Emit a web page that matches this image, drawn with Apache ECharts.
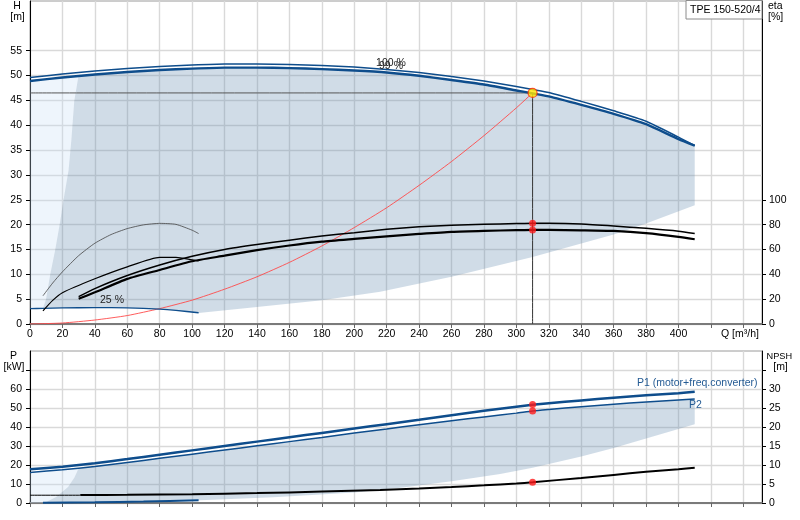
<!DOCTYPE html>
<html style="height: 100%;width: 100%">
<head>
<meta charset="utf-8">
<script src="https://cdn.jsdelivr.net/npm/echarts@6/dist/echarts.min.js"></script>
<style>
  body { margin: 0; background: #fff; }
  #container { width: 800px; height: 520px; }
</style>
</head>
<body>
<div id="container"></div>
<script type="text/javascript">
// flow grid shared by QH and P curves [m3/h]
var qQ   = [0, 20, 40, 60, 80, 100, 120, 140, 160, 180, 200, 220, 240, 260, 280, 300, 310, 320, 340, 360, 380, 400, 410];
var h100 = [49.6, 50.3, 50.9, 51.4, 51.8, 52.1, 52.3, 52.3, 52.2, 52.0, 51.7, 51.2, 50.6, 49.8, 48.9, 47.8, 47.2, 46.6, 44.8, 42.9, 40.8, 37.6, 35.9];
var h99  = [48.9, 49.6, 50.2, 50.7, 51.1, 51.4, 51.6, 51.6, 51.5, 51.3, 51.0, 50.6, 49.95, 49.1, 48.2, 47.0, 46.4, 45.8, 44.1, 42.3, 40.2, 37.2, 35.9];
var p1   = [17.7, 19.1, 20.9, 23.1, 25.4, 27.7, 30.0, 32.3, 34.6, 36.9, 39.2, 41.5, 43.8, 46.2, 48.5, 50.7, 51.7, 52.5, 54.0, 55.4, 56.7, 57.8, 58.5];
var p2   = [16.1, 17.5, 19.2, 21.3, 23.5, 25.7, 27.9, 30.1, 32.3, 34.5, 36.8, 39.0, 41.2, 43.3, 45.3, 47.3, 48.4, 49.2, 50.7, 52.0, 53.2, 54.2, 54.7];

// efficiency curves [%]
var etaQ  = [30, 40, 60, 80, 100, 120, 140, 160, 180, 200, 220, 240, 260, 280, 300, 310, 320, 340, 360, 380, 400, 410];
var etaHi = [22, 28.5, 39, 47.5, 54.5, 60, 64, 67.5, 70.8, 73.5, 76.2, 78.2, 79.5, 80.3, 80.8, 81.0, 81.0, 80.5, 78.9, 77.0, 74.7, 72.8];
var etaLo = [20.3, 25.5, 36.3, 43.5, 50.5, 55, 59.5, 63.2, 66.3, 68.5, 70.6, 72.5, 74.2, 75.0, 75.5, 75.7, 75.7, 75.4, 74.9, 73.2, 70.2, 68.2];
var thinQ   = [8, 14, 20, 30, 40, 50, 60, 70, 80, 90, 100, 104];
var thinEta = [22.7, 33, 42, 55, 65, 72, 76.8, 79.8, 81, 80.2, 75.5, 72.8];
var midQ   = [8, 14, 20, 40, 60, 80, 90, 100, 104];
var midEta = [10.6, 19, 25.2, 36.4, 46, 53.6, 53.6, 51.6, 50.8];

// 25 % speed QH, system curve
var b25Q = [0, 8, 20, 40, 60, 80, 90, 104];
var b25H = [3.1, 3.15, 3.25, 3.3, 3.25, 3.0, 2.75, 2.25];
var sysQ = [0, 20, 40, 60, 80, 100, 120, 140, 160, 180, 200, 220, 240, 260, 280, 300, 310];
var sysH = [0, 0.2, 0.8, 1.7, 3.1, 4.8, 7.0, 9.5, 12.4, 15.7, 19.4, 23.4, 27.9, 32.7, 37.9, 43.5, 46.5];

// operating range, upper chart
var shLeftQ = [8, 9.9, 12.5, 15.6, 18.3, 20.7, 23.8, 25.5, 27.3, 30];
var shLeftH = [3.1, 5, 10, 15, 20, 25, 31, 37, 44.9, 50.1];
var shBotQ  = [104, 140, 180, 216, 260, 310, 360, 380, 410];
var shBotH  = [2.2, 3.4, 4.8, 6.5, 9.5, 13.5, 18.0, 20.2, 23.9];

// lower chart
var npshQ = [31, 60, 100, 140, 180, 216, 240, 260, 280, 300, 310, 340, 360, 380, 400, 410];
var npsh  = [2.1, 2.15, 2.3, 2.6, 3.0, 3.4, 3.8, 4.2, 4.65, 5.15, 5.45, 6.6, 7.4, 8.2, 8.9, 9.3];
var npshMinQ = [0, 31];
var npshMin  = [2.05, 2.05];
var p25Q = [8, 40, 70, 104];
var p25  = [0.1, 0.4, 0.8, 1.4];
var pLeftQ = [7.7, 10.3, 16.4, 23.6, 27.5, 30];
var pLeftP = [0, 0.7, 3.3, 8.6, 13.5, 18.3];
var pBotQ = [8, 40, 80, 105, 150, 200, 230, 260, 290, 310, 340, 360, 380, 410];
var pBotP = [0, 0.3, 0.8, 1.5, 3.0, 5.5, 8.2, 11.5, 15.2, 18.5, 24.5, 29, 34, 41.4];

// duty point
var dutyQ = 310, dutyH = 46.5;
var dutyEta = [81.0, 75.7];
var dutyP = [51.8, 48.4];
var dutyNpsh = 5.45;

var FONT = 'Liberation Sans, Arial, sans-serif';
var BLUE = '#0e4d8c';

function zip(xs, ys) { return xs.map(function (x, i) { return [x, ys[i]]; }); }
function range(a, b, s) { var r = []; for (var v = a; v <= b; v += s) r.push(v); return r; }

function line(xs, ys, xi, yi, color, width, z) {
    return {
        type: 'line', xAxisIndex: xi, yAxisIndex: yi, data: zip(xs, ys),
        showSymbol: false, symbol: 'none', smooth: 0.2, silent: true, z: z || 3,
        lineStyle: { color: color, width: width }
    };
}
function poly(pts, xi, yi, color) {
    return {
        type: 'custom', coordinateSystem: 'cartesian2d', xAxisIndex: xi, yAxisIndex: yi,
        silent: true, data: [[0, 0]], z: 1,
        renderItem: function (params, api) {
            return {
                type: 'polygon',
                shape: { points: pts.map(function (p) { return api.coord(p); }) },
                style: { fill: color }
            };
        }
    };
}

// build shaded regions from the arrays
var upDark = zip(shLeftQ, shLeftH);
qQ.forEach(function (q, i) { if (q > 30) upDark.push([q, h99[i]]); });
zip(shBotQ, shBotH).reverse().forEach(function (p) { upDark.push(p); });
zip(b25Q, b25H).reverse().forEach(function (p) { if (p[0] >= 8 && p[0] < 104) upDark.push(p); });

var upLight = [[0, b25H[0]]].concat(zip(shLeftQ, shLeftH)).concat(
    qQ.map(function (q, i) { return [q, h99[i]]; }).filter(function (p) { return p[0] < 30; }).reverse());

var loDark = zip(pLeftQ, pLeftP);
qQ.forEach(function (q, i) { if (q > 30) loDark.push([q, p2[i]]); });
zip(pBotQ, pBotP).reverse().forEach(function (p) { loDark.push(p); });

var loLight = [[0, 0]].concat(zip(pLeftQ, pLeftP)).concat(
    qQ.map(function (q, i) { return [q, p2[i]]; }).filter(function (p) { return p[0] < 30; }).reverse());

var dom = document.getElementById('container');
var myChart = echarts.init(dom, null, { renderer: 'canvas' });

function xAx(grid, labels) {
    return {
        type: 'value', gridIndex: grid, min: 0, max: 451.5, interval: 20,
        axisLine: { show: true, onZero: false, lineStyle: { color: '#7a7a7a', width: 2 } },
        axisTick: { show: true, length: 4, customValues: range(0, 440, 20), lineStyle: { color: '#666' } },
        axisLabel: {
            show: labels, color: '#000', fontSize: 10.5, fontFamily: FONT, margin: 5,
            formatter: function (v) { return v <= 400 ? String(v) : ''; }
        },
        splitLine: { show: true, lineStyle: { color: '#d9d9d9', width: 1.4 } }
    };
}
function yAx(grid, pos, max, step, labMax, tickMax, split) {
    return {
        type: 'value', gridIndex: grid, position: pos, min: 0, max: max, interval: step,
        axisLine: { show: true, onZero: false, lineStyle: { color: '#000', width: 1 } },
        axisTick: { show: true, length: 4, customValues: range(0, tickMax, step), lineStyle: { color: '#000' } },
        axisLabel: {
            color: '#000', fontSize: 10.5, fontFamily: FONT, margin: pos === 'left' ? 8 : 7,
            formatter: function (v) { return v <= labMax ? String(v) : ''; }
        },
        splitLine: { show: split, lineStyle: { color: '#d9d9d9', width: 1.4 } }
    };
}

function txt(x, y, s, align, color, size) {
    return {
        type: 'text', x: x, y: y, z: 100,
        style: {
            text: s, font: (size || 10.5) + 'px ' + FONT, fill: color || '#000',
            align: align || 'left', verticalAlign: 'middle',
            textAlign: align || 'left', textVerticalAlign: 'middle'
        }
    };
}

option = {
    animation: false,
    backgroundColor: '#fff',
    grid: [
        { left: 30, right: 38, top: 1, height: 323, show: true, borderColor: '#9a9a9a', borderWidth: 1 },
        { left: 30, right: 38, top: 351, height: 152, show: true, borderColor: '#9a9a9a', borderWidth: 1 }
    ],
    xAxis: [xAx(0, true), xAx(1, false)],
    yAxis: [
        yAx(0, 'left', 65, 5, 55, 55, true),
        yAx(0, 'right', 260, 20, 100, 100, false),
        yAx(1, 'left', 80, 10, 60, 70, true),
        yAx(1, 'right', 40, 5, 30, 35, false)
    ],
    graphic: [
        { type: 'rect', z: 99, shape: { x: 686, y: 0.5, width: 76, height: 18.5 }, style: { fill: '#fff', stroke: '#8c8c8c', lineWidth: 1 } },
        txt(690, 10, 'TPE 150-520/4'),
        txt(17, 6, 'H', 'center'),
        txt(17.5, 17.5, '[m]', 'center'),
        txt(768, 6, 'eta'),
        txt(768, 17.5, '[%]'),
        txt(721, 334, 'Q [m\u00b3/h]'),
        txt(13.5, 356.5, 'P', 'center'),
        txt(14, 367.5, '[kW]', 'center'),
        txt(766.5, 356, 'NPSH', 'left', '#000', 9.2),
        txt(780.5, 367.5, '[m]', 'center'),
        txt(391, 63, '100 %', 'center', '#222'),
        txt(391, 66, '99 %', 'center', '#222'),
        txt(112, 300, '25 %', 'center', '#222'),
        txt(637, 383.5, 'P1 (motor+freq.converter)', 'left', '#245b94'),
        txt(689, 405.5, 'P2', 'left', '#245b94')
    ],
    series: [
        poly(upLight, 0, 0, 'rgba(198,222,245,0.3)'),
        poly(upDark, 0, 0, 'rgba(98,138,175,0.3)'),
        poly(loLight, 1, 2, 'rgba(198,222,245,0.3)'),
        poly(loDark, 1, 2, 'rgba(98,138,175,0.3)'),

        line(sysQ, sysH, 0, 0, '#ff4a4a', 0.9),
        line([0, dutyQ], [dutyH, dutyH], 0, 0, '#555', 1),
        line([dutyQ, dutyQ], [dutyH, 0], 0, 0, '#333', 1),
        line(qQ, h100, 0, 0, BLUE, 1.5),
        line(qQ, h99, 0, 0, BLUE, 2.4),
        line(b25Q, b25H, 0, 0, BLUE, 1.4),
        line(thinQ, thinEta, 0, 1, '#444', 0.8),
        line(midQ, midEta, 0, 1, '#000', 1.2),
        line(etaQ, etaHi, 0, 1, '#000', 1.5),
        line(etaQ, etaLo, 0, 1, '#000', 2.2),

        line(qQ, p1, 1, 2, BLUE, 2.5),
        line(qQ, p2, 1, 2, BLUE, 1.5),
        line(p25Q, p25, 1, 2, BLUE, 2),
        line(npshMinQ, npshMin, 1, 3, '#000', 1),
        line(npshQ, npsh, 1, 3, '#000', 2),

        { type: 'scatter', xAxisIndex: 0, yAxisIndex: 1, z: 5, symbolSize: 7, silent: true,
          itemStyle: { color: '#ff1a1a' }, data: dutyEta.map(function (v) { return [dutyQ, v]; }) },
        { type: 'scatter', xAxisIndex: 0, yAxisIndex: 0, z: 6, symbolSize: 9, silent: true,
          itemStyle: { color: '#ffe600', borderColor: '#ff2a00', borderWidth: 1.2 }, data: [[dutyQ, dutyH]] },
        { type: 'scatter', xAxisIndex: 1, yAxisIndex: 2, z: 5, symbolSize: 7, silent: true,
          itemStyle: { color: '#ff1a1a' }, data: dutyP.map(function (v) { return [dutyQ, v]; }) },
        { type: 'scatter', xAxisIndex: 1, yAxisIndex: 3, z: 5, symbolSize: 7, silent: true,
          itemStyle: { color: '#ff1a1a' }, data: [[dutyQ, dutyNpsh]] }
    ]
};

if (option && typeof option === 'object') {
    myChart.setOption(option);
}
</script>
</body>
</html>
